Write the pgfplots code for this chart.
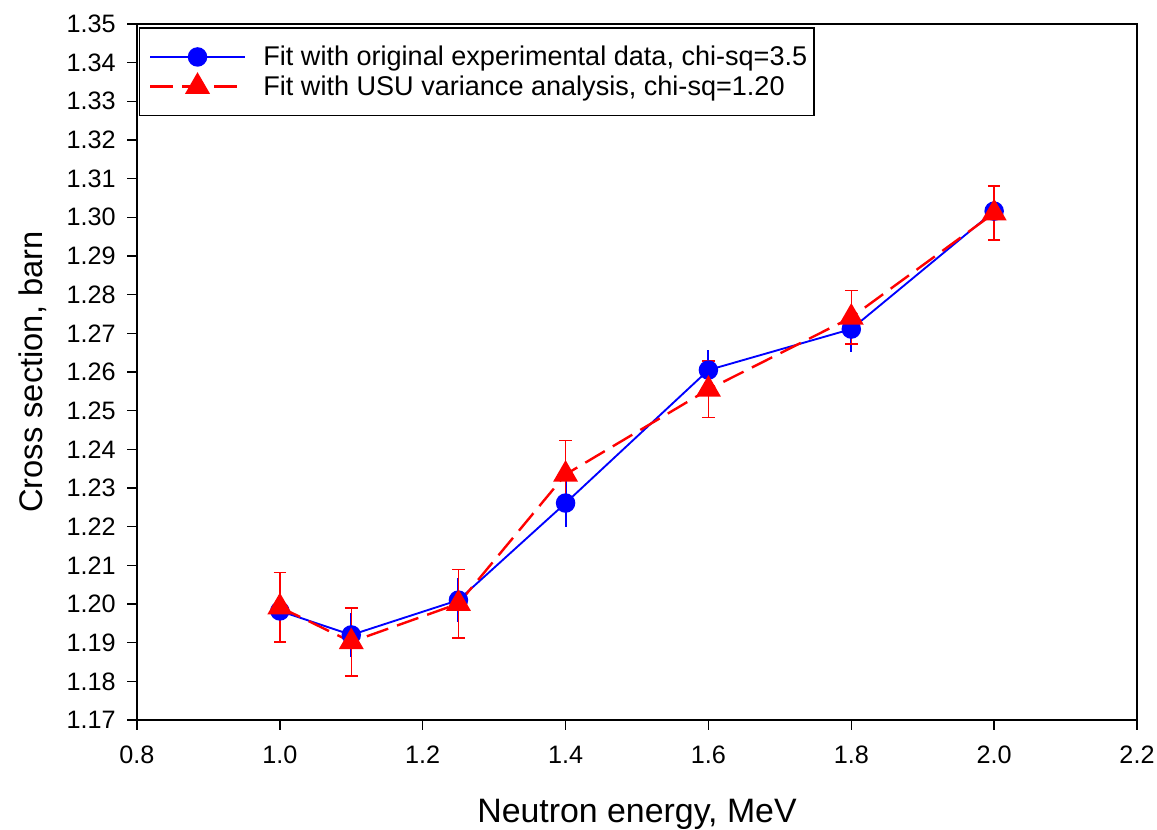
\documentclass[border=0pt]{standalone}
\usepackage{pgfplots}
\pgfplotsset{compat=1.18}
\usepackage{fontspec}
\setmainfont{Liberation Sans}
\definecolor{myblue}{RGB}{0,0,255}
\definecolor{myred}{RGB}{255,0,0}
\begin{document}
\begin{tikzpicture}
\begin{axis}[
  scale only axis,
  width=750pt, height=522pt,
  xmin=0.8, xmax=2.2, ymin=1.17, ymax=1.35,
  xtick={0.8,1.0,1.2,1.4,1.6,1.8,2.0,2.2},
  ytick={1.17,1.18,1.19,1.20,1.21,1.22,1.23,1.24,1.25,1.26,1.27,1.28,1.29,1.30,1.31,1.32,1.33,1.34,1.35},
  xtick pos=bottom, ytick pos=left,
  tick align=outside,
  major tick length=7.5pt,
  every tick/.style={black, line width=1pt},
  axis line style={line width=1.4pt},
  /pgf/number format/assume math mode=true,
  xticklabel style={font=\fontsize{18.9}{22}\selectfont, yshift=-8.5pt, /pgf/number format/.cd, fixed, fixed zerofill, precision=1},
  yticklabel style={font=\fontsize{18.9}{22}\selectfont, xshift=-5pt, /pgf/number format/.cd, fixed, fixed zerofill, precision=2},
  xlabel={Neutron energy, MeV},
  ylabel={Cross section, barn},
  every axis x label/.style={at={(axis description cs:0.5,-0.135)}, anchor=center, font=\fontsize{25.4}{30}\selectfont},
  every axis y label/.style={at={(axis description cs:-0.104,0.5)}, rotate=90, anchor=center, font=\fontsize{24.5}{29}\selectfont},
  legend style={at={(axis description cs:0.002,0.995)}, anchor=north west,
    font=\fontsize{20.3}{24}\selectfont, draw=black, line width=1pt,
    inner xsep=3pt, inner ysep=11.5pt, row sep=2pt,
    /tikz/every odd column/.append style={column sep=11pt}},
  legend cell align=left,
  legend image code/.code={\path (0pt,0pt); \draw[mark repeat=2, mark phase=2, #1] plot coordinates {(4pt,0pt) (39.5pt,0pt) (75pt,0pt)};},
]
\addplot[color=myblue, line width=1.4pt, mark=*, mark size=6.6pt, mark options={solid, fill=myblue, draw=myblue},
  error bars/.cd, y dir=both, y explicit, error mark=none, error bar style={line width=1.4pt, color=myblue}]
  coordinates {
  (1.00,1.1982) +- (0,0.0057)
  (1.10,1.1920) +- (0,0.0057)
  (1.25,1.2010) +- (0,0.0057)
  (1.40,1.2261) +- (0,0.0062)
  (1.60,1.2605) +- (0,0.0052)
  (1.80,1.2711) +- (0,0.0060)
  (2.00,1.3016) +- (0,0.0060)
  };
\addlegendentry{Fit with original experimental data, chi-sq=3.5}
\addplot[color=myred, line width=1.8pt, dash pattern=on 17pt off 7pt, mark=triangle*, mark size=9pt, mark options={solid, fill=myred, draw=myred},
  error bars/.cd, y dir=both, y explicit, error bar style={line width=1pt, solid, color=myred}, error mark options={rotate=90, mark size=4.75pt, line width=1pt, color=myred}]
  coordinates {
  (1.00,1.1992) +- (0,0.0090)
  (1.10,1.1902) +- (0,0.0088)
  (1.25,1.2001) +- (0,0.0089)
  (1.40,1.2335) +- (0,0.0087)
  (1.60,1.2555) +- (0,0.0073)
  (1.80,1.2741) +- (0,0.0069)
  (2.00,1.3011) +- (0,0.0070)
  };
\addlegendentry{Fit with USU variance analysis, chi-sq=1.20}
\end{axis}
\pgfresetboundingbox
\path ([xshift=-102.75pt,yshift=-82.5pt]current axis.south west) rectangle ([xshift=15pt,yshift=18pt]current axis.north east);
\end{tikzpicture}
\end{document}
